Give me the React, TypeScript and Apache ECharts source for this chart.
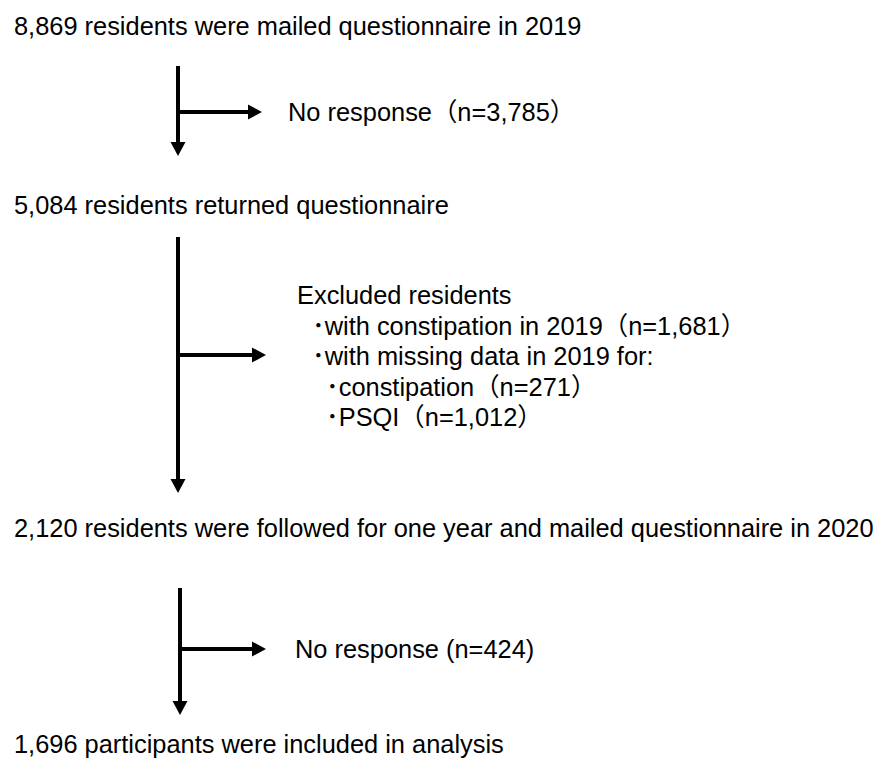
import React, { useEffect, useRef } from "react";
import * as echarts from "echarts";

// Flow stages (main column)
const stageCounts = ["8,869", "5,084", "2,120", "1,696"];
const stageTexts = [
  "residents were mailed questionnaire in 2019",
  "residents returned questionnaire",
  "residents were followed for one year and mailed questionnaire in 2020",
  "participants were included in analysis",
];
// Exclusions (side boxes)
const noResponse1 = "No response（n=3,785）";
const excludedLines = [
  "Excluded residents",
  "･with constipation in 2019（n=1,681）",
  "･with missing data in 2019 for:",
  "･constipation（n=271）",
  "･PSQI（n=1,012）",
];
const excludedIndent = [0, 1, 1, 2, 2];
const noResponse2 = "No response (n=424)";

const FONT = '25.4px "Liberation Sans", Arial, "Noto Sans CJK JP", sans-serif';
const INK = "#000";

function text(str: string, x: number, y: number) {
  return {
    type: "text",
    x,
    y,
    style: { text: str, font: FONT, fill: INK, align: "left", verticalAlign: "middle" },
    silent: true,
  };
}

function downArrow(x: number, y1: number, y2: number) {
  const head = 14;
  const hw = 7.5;
  return [
    { type: "line", shape: { x1: x, y1, x2: x, y2: y2 - head + 1 }, style: { stroke: INK, lineWidth: 4 } },
    {
      type: "polygon",
      shape: { points: [[x - hw, y2 - head], [x + hw, y2 - head], [x, y2]] },
      style: { fill: INK },
    },
  ];
}

function rightArrow(x1: number, y: number, x2: number) {
  const head = 14;
  const hw = 7.5;
  return [
    { type: "line", shape: { x1, y1: y, x2: x2 - head + 1, y2: y }, style: { stroke: INK, lineWidth: 4 } },
    {
      type: "polygon",
      shape: { points: [[x2 - head, y - hw], [x2 - head, y + hw], [x2, y]] },
      style: { fill: INK },
    },
  ];
}

export default function App() {
  const ref = useRef<HTMLDivElement>(null);
  useEffect(() => {
    document.body.style.margin = "0";
    if (!ref.current) return;
    const chart = echarts.init(ref.current, null, { renderer: "svg" });
    const stageY = [26, 205, 528, 744];
    const elements: any[] = [];
    stageTexts.forEach((t, i) => elements.push(text(`${stageCounts[i]} ${t}`, 14, stageY[i])));

    // arrow 1
    elements.push(...downArrow(178, 66, 156));
    elements.push(...rightArrow(176, 112, 262));
    elements.push(text(noResponse1, 288, 112));

    // arrow 2
    elements.push(...downArrow(178, 237, 493));
    elements.push(...rightArrow(176, 355, 266));
    const exY = [295, 325.5, 356, 386.5, 417];
    const exX = [297, 312, 326];
    excludedLines.forEach((t, i) => elements.push(text(t, exX[excludedIndent[i]], exY[i])));

    // arrow 3
    elements.push(...downArrow(180, 588, 715));
    elements.push(...rightArrow(178, 649, 266));
    elements.push(text(noResponse2, 295, 649));

    chart.setOption({
      animation: false,
      backgroundColor: "#fff",
      graphic: { elements },
    });
    return () => chart.dispose();
  }, []);
  return <div ref={ref} style={{ width: 883, height: 760 }} />;
}
